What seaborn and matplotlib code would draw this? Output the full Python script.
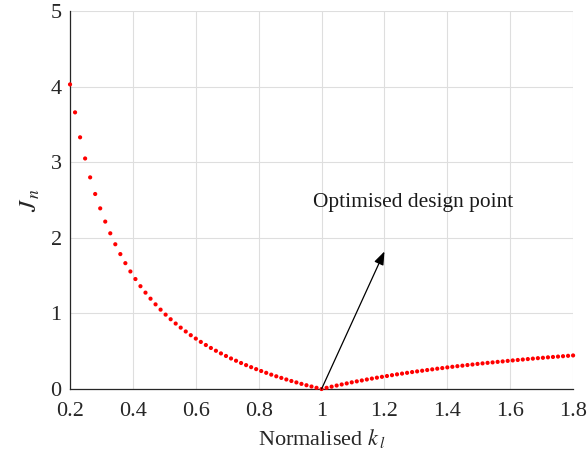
import matplotlib
matplotlib.use("Agg")
import matplotlib.pyplot as plt
import seaborn as sns
import pandas as pd

# Normalised stiffness samples and the corresponding cost J_n
k_norm = [
    0.200, 0.216, 0.232, 0.248, 0.264, 0.280, 0.296, 0.312, 0.328, 0.344,
    0.360, 0.376, 0.392, 0.408, 0.424, 0.440, 0.456, 0.472, 0.488, 0.504,
    0.520, 0.536, 0.552, 0.568, 0.584, 0.600, 0.616, 0.632, 0.648, 0.664,
    0.680, 0.696, 0.712, 0.728, 0.744, 0.760, 0.776, 0.792, 0.808, 0.824,
    0.840, 0.856, 0.872, 0.888, 0.904, 0.920, 0.936, 0.952, 0.968, 0.984,
    1.000, 1.016, 1.032, 1.048, 1.064, 1.080, 1.096, 1.112, 1.128, 1.144,
    1.160, 1.176, 1.192, 1.208, 1.224, 1.240, 1.256, 1.272, 1.288, 1.304,
    1.320, 1.336, 1.352, 1.368, 1.384, 1.400, 1.416, 1.432, 1.448, 1.464,
    1.480, 1.496, 1.512, 1.528, 1.544, 1.560, 1.576, 1.592, 1.608, 1.624,
    1.640, 1.656, 1.672, 1.688, 1.704, 1.720, 1.736, 1.752, 1.768, 1.784,
    1.800,
]
cost = [
    4.030, 3.660, 3.330, 3.050, 2.800, 2.580, 2.390, 2.215, 2.060, 1.915,
    1.785, 1.665, 1.555, 1.455, 1.360, 1.275, 1.195, 1.120, 1.050, 0.984,
    0.923, 0.866, 0.812, 0.761, 0.712, 0.667, 0.623, 0.582, 0.543, 0.506,
    0.471, 0.437, 0.404, 0.374, 0.344, 0.316, 0.289, 0.263, 0.238, 0.214,
    0.190, 0.168, 0.147, 0.126, 0.106, 0.087, 0.068, 0.050, 0.033, 0.016,
    0.000, 0.016, 0.031, 0.046, 0.060, 0.074, 0.088, 0.101, 0.113, 0.126,
    0.138, 0.150, 0.161, 0.172, 0.183, 0.194, 0.204, 0.214, 0.224, 0.233,
    0.242, 0.251, 0.260, 0.269, 0.277, 0.286, 0.294, 0.302, 0.309, 0.317,
    0.324, 0.332, 0.339, 0.346, 0.352, 0.359, 0.365, 0.372, 0.378, 0.384,
    0.390, 0.396, 0.402, 0.408, 0.413, 0.419, 0.424, 0.429, 0.434, 0.439,
    0.444,
]
x_ticks = [0.2, 0.4, 0.6, 0.8, 1.0, 1.2, 1.4, 1.6, 1.8]
x_tick_labels = ["0.2", "0.4", "0.6", "0.8", "1", "1.2", "1.4", "1.6", "1.8"]
y_ticks = [0, 1, 2, 3, 4, 5]

design_point = (1.0, 0.0)
arrow_tip = (1.2, 1.82)
note_pos = (1.29, 2.47)
note_text = "Optimised design point"

sns.set_style("whitegrid")
plt.rcParams["font.family"] = ["Liberation Serif", "DejaVu Serif"]
plt.rcParams["mathtext.fontset"] = "stix"

df = pd.DataFrame({"k": k_norm, "J": cost})

fig = plt.figure(figsize=(5.87, 4.62), dpi=100)
ax = fig.add_axes([0.1193, 0.158, 0.857, 0.818])

sns.scatterplot(data=df, x="k", y="J", ax=ax, color="#ff0000", s=9,
                edgecolor="none", linewidth=0, clip_on=False, zorder=3)

ax.set_xlim(0.2, 1.8)
ax.set_ylim(0, 5)
ax.set_xticks(x_ticks)
ax.set_xticklabels(x_tick_labels)
ax.set_yticks(y_ticks)

ax.grid(True, color="#dedede", linewidth=0.8)
for side in ("top", "right"):
    ax.spines[side].set_visible(False)
for side in ("left", "bottom"):
    ax.spines[side].set_color("#262626")
    ax.spines[side].set_linewidth(0.9)

ax.tick_params(axis="both", direction="in", length=3.5, width=0.8,
               colors="#262626", labelsize=16, labelcolor="#262626")
ax.tick_params(axis="x", pad=9)
ax.tick_params(axis="y", pad=6)

ax.set_xlabel(r"Normalised $k_{\,l}$", fontsize=16, color="#262626", labelpad=5)
ax.set_ylabel(r"$J_{\,n}$", fontsize=18, color="#262626", labelpad=6)

ax.annotate("", xy=arrow_tip, xytext=design_point,
            arrowprops=dict(arrowstyle="-|>,head_length=0.8,head_width=0.3",
                            color="black", linewidth=0.9, shrinkA=0, shrinkB=0),
            annotation_clip=False, zorder=4)
ax.text(*note_pos, note_text, fontsize=15.4, ha="center", va="center",
        color="#1a1a1a")

fig.savefig("out.png", dpi=100, facecolor="white")
